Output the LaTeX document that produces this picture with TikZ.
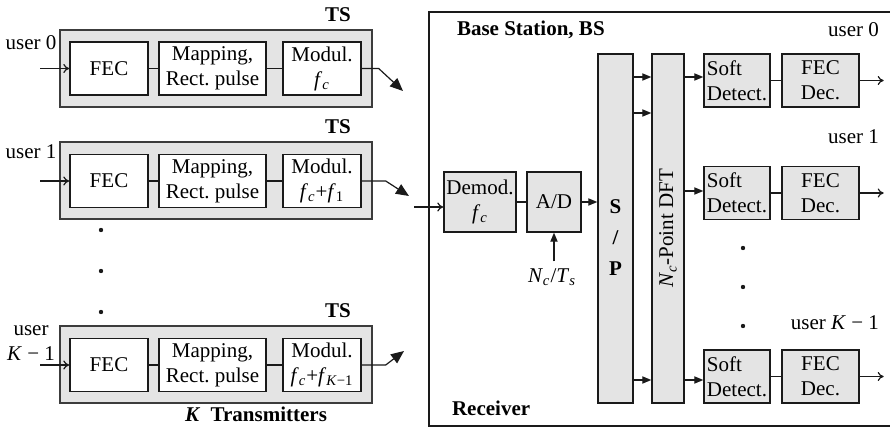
\documentclass[tikz,border=0pt]{standalone}
\usepackage{fontspec}
\setmainfont{Liberation Serif}
\usetikzlibrary{arrows.meta}
\definecolor{ink}{HTML}{1A1A1A}
\definecolor{boxg}{HTML}{E4E4E4}
\definecolor{rim}{HTML}{3C3C3C}
\def\pxu{0.5pt}
\newcommand{\vi}[1]{\textit{#1}}
\newcommand{\vsub}[2]{\vi{#1}\textsubscript{#2}}

\begin{document}
\begin{tikzpicture}[x=0.5pt, y=-0.5pt, font=\fontsize{10.5}{12.5}\selectfont,
  tsframe/.style={draw=rim, fill=boxg, line width=1pt, inner sep=0},
  txbox/.style={draw=ink, fill=white, line width=0.7pt, inner sep=0,
    align=center, minimum height=53*\pxu},
  rxbox/.style={draw=ink, fill=boxg, line width=0.7pt, inner sep=0,
    align=center},
  wire/.style={draw=ink, line width=0.6pt},
  feed/.style={wire, -{To[length=3pt,width=4.5pt]}},
  fat/.style={wire, -{Triangle[length=4.5pt,width=3.6pt]}},
  air/.style={wire, -{Triangle[length=6.5pt,width=5.5pt]}}]

\useasboundingbox (0,0) rectangle (890,427);

% ---- transmitters
\foreach \r/\yc/\uy/\usr/\fm/\hx/\tx/\ty in {%
  0/68.5/43/{user 0}/{\vsub{f}{\vi{c}}}/17/403/91,
  1/181/152/{user 1}/{\vsub{f}{\vi{c}}+\vsub{f}{1}}/24/409/196,
  2/365/343/{user\\\vi{K} − 1}/{\vsub{f}{\vi{c}}+\vsub{f}{\vi{K}−1}}/24/404/351%
}{
  \node[tsframe, minimum width=312*\pxu, minimum height=77*\pxu]
    (ts\r) at (216,\yc) {};
  \node[font=\fontsize{10.5}{12.5}\selectfont\bfseries] at (338,{\yc-54}) {TS};
  \node[txbox, minimum width=78*\pxu]  (fec\r) at (109,\yc) {FEC};
  \node[txbox, minimum width=107*\pxu] (map\r) at (212.5,\yc)
    {Mapping,\\Rect.\ pulse};
  \node[txbox, minimum width=78*\pxu]  (mod\r) at (322,\yc) {Modul.\\\fm};
  \node[align=center] (usr\r) at (31,\uy) {\usr};
  \draw[wire] (fec\r) -- (map\r) -- (mod\r);
  \draw[feed] (fec\r.west) ++(-29,0) -- (fec\r.west);
  \coordinate (ant\r) at (\tx,\ty);
  \draw[air] (mod\r.east) -- ++(\hx,0) -- (ant\r);
}
\foreach \yy in {230,271,312}
  \fill[ink] (101,\yy) circle (2.2);
\node[font=\fontsize{10.5}{12.5}\selectfont\bfseries] (ktx) at (256,414)
  {\textit{K}\ \ Transmitters};

% ---- base station
\draw[ink, line width=0.6pt] (890,12) -- (429,12) -- (429,426) -- (890,426);
\node[anchor=west, font=\fontsize{10.5}{12.5}\selectfont\bfseries]
  (bs) at (450,30) {Base Station, BS};
\node[anchor=west, font=\fontsize{10.5}{12.5}\selectfont\bfseries]
  (rcv) at (445,408) {Receiver};

\coordinate (rxin) at (414,207);
\node[rxbox, minimum width=72*\pxu, minimum height=60*\pxu] (demod)
  at (480,202) {Demod.\\\vsub{f}{\vi{c}}};
\node[rxbox, minimum width=54*\pxu, minimum height=60*\pxu] (ad)
  at (554,202) {A/D};
\node[rxbox, minimum width=35*\pxu, minimum height=349*\pxu] (sp)
  at (615.5,228.5) {};
\node[font=\fontsize{10.5}{15.5}\selectfont\bfseries, align=center]
  at ([yshift=-4.75pt]sp.center) {S\\/\\P};
\node[rxbox, minimum width=32*\pxu, minimum height=349*\pxu] (dft)
  at (668,228.5) {};
\node[rotate=90] at (dft.center) {\vsub{N}{\vi{c}}-Point DFT};
\node (clk) at (552,277) {\vsub{N}{\vi{c}}/\vsub{T}{\vi{s}}};

\draw[feed] (rxin) -- (rxin -| demod.west);
\draw[wire] (demod) -- (ad);
\draw[fat] (ad.east) -- (ad.east -| sp.west);
\draw[fat] (clk.north -| ad.south) -- (ad.south);
\foreach \yy in {77,113,380}
  \draw[fat] (sp.east |- 0,\yy) -- (dft.west |- 0,\yy);

% ---- per-user detection chains
\foreach \i/\yc/\ya/\ly/\lab in {%
  0/80.5/77/30/{user 0},
  1/193/191/137/{user 1},
  2/376.5/380/323/{user \vi{K} − 1}%
}{
  \node[rxbox, minimum width=66*\pxu, minimum height=53*\pxu, align=left]
    (soft\i) at (737,\yc) {Soft\\Detect.};
  \node[rxbox, minimum width=77*\pxu, minimum height=53*\pxu]
    (fecd\i) at (820.5,\yc) {FEC\\Dec.};
  \node[anchor=east] (out\i) at (886,\ly) {\lab};
  \draw[fat] (dft.east |- 0,\ya) -- (soft\i.west |- 0,\ya);
  \draw[wire] (soft\i) -- (fecd\i);
  \draw[feed] (fecd\i.east) -- ++(24,0);
}
\foreach \yy in {248,287,326}
  \fill[ink] (743,\yy) circle (2.2);

\end{tikzpicture}
\end{document}
